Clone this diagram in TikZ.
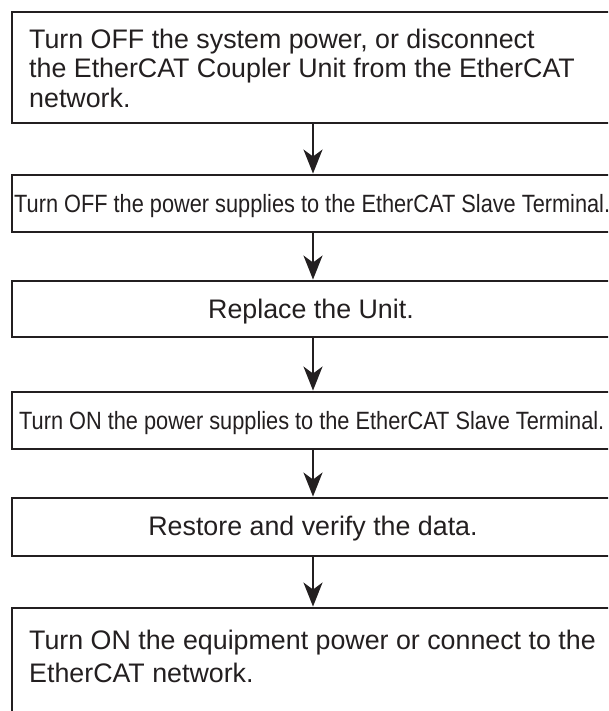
\documentclass[tikz,border=0pt]{standalone}
\usepackage{fontspec}
\setmainfont{Liberation Sans}
\newfontfamily\narrowfont[FakeStretch=0.87]{Liberation Sans}
\usetikzlibrary{arrows.meta}
\definecolor{ink}{HTML}{231F20}
\begin{document}
\begin{tikzpicture}[x=1pt,y=-1pt,
  box/.style={draw=ink, line width=2.9pt, rectangle, inner sep=0pt, minimum width=599pt},
  big/.style={text=ink, inner sep=0pt, font=\fontsize{26.8}{29}\selectfont},
  narrow/.style={text=ink, inner sep=0pt, font=\narrowfont\fontsize{25}{29}\selectfont},
  flow/.style={draw=ink, line width=2.3pt, -{Stealth[length=24pt,width=19pt,inset=7pt]}}]
\useasboundingbox (0,0) rectangle (608,711);
\clip (0,0) rectangle (608,711);
\fill[white] (0,0) rectangle (608,711);
% boxes
\node[box, minimum height=111pt] (b1) at (311.5,67.5) {};
\node[box, minimum height=57pt] (b2) at (311.5,203.5) {};
\node[box, minimum height=56pt] (b3) at (311.5,309) {};
\node[box, minimum height=57pt] (b4) at (311.5,420.5) {};
\node[box, minimum height=58pt] (b5) at (311.5,527) {};
\node[box, minimum height=132pt] (b6) at (311.5,674) {};
% texts
\node[big, anchor=base west] (t1a) at (29,49) {Turn OFF the system power, or disconnect};
\node[big, anchor=base west] (t1b) at (29,78) {the EtherCAT Coupler Unit from the EtherCAT};
\node[big, anchor=base west] (t1c) at (29,108) {network.};
\node[narrow, anchor=base west] (t2) at (14,213) {Turn OFF the power supplies to the EtherCAT Slave Terminal.};
\node[big, anchor=base] (t3) at (311,318) {Replace the Unit.};
\node[narrow, anchor=base west] (t4) at (19,429) {Turn ON the power supplies to the EtherCAT Slave Terminal.};
\node[big, anchor=base] (t5) at (313,535) {Restore and verify the data.};
\node[big, anchor=base west] (t6a) at (29,649) {Turn ON the equipment power or connect to the};
\node[big, anchor=base west] (t6b) at (29,682) {EtherCAT network.};
% arrows
\draw[flow] ([xshift=1.5pt]b1.south) -- ([xshift=1.5pt]b2.north);
\draw[flow] ([xshift=1.5pt]b2.south) -- ([xshift=1.5pt]b3.north);
\draw[flow] ([xshift=1.5pt]b3.south) -- ([xshift=1.5pt]b4.north);
\draw[flow] ([xshift=1.5pt]b4.south) -- ([xshift=1.5pt]b5.north);
\draw[flow] ([xshift=1.5pt]b5.south) -- ([xshift=1.5pt]b6.north);
\end{tikzpicture}
\end{document}
